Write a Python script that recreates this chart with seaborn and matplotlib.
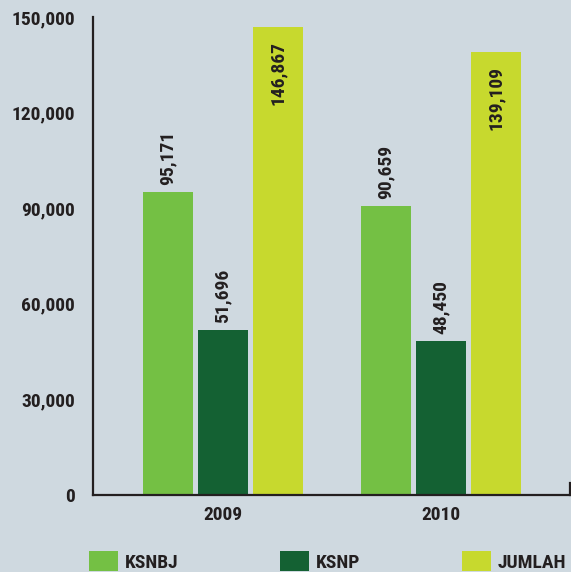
import matplotlib
matplotlib.use("Agg")
import matplotlib.pyplot as plt
from matplotlib.patches import Patch
from matplotlib.ticker import FuncFormatter
import seaborn as sns
import pandas as pd

# Data
years = ["2009", "2010"]
series = ["KSNBJ", "KSNP", "JUMLAH"]
ksnbj = [95171, 90659]
ksnp = [51696, 48450]
jumlah = [146867, 139109]
yticks = [0, 30000, 60000, 90000, 120000, 150000]

colors = {"KSNBJ": "#74c044", "KSNP": "#146133", "JUMLAH": "#c7d92e"}
bg = "#cfd9e0"
ink = "#231f20"

rows = []
for name, vals in zip(series, [ksnbj, ksnp, jumlah]):
    for y, v in zip(years, vals):
        rows.append({"year": y, "series": name, "value": v})
df = pd.DataFrame(rows)

sns.set_style("white")
plt.rcParams["font.family"] = ["Roboto Condensed", "Archivo Narrow", "DejaVu Sans"]
plt.rcParams["font.weight"] = "bold"
FS = 14

fig = plt.figure(figsize=(5.71, 5.72), dpi=100, facecolor=bg)
ax = fig.add_axes([93 / 571, 1 - 495 / 572, (570 - 93) / 571, (495 - 17) / 572])
ax.set_facecolor(bg)

sns.barplot(data=df, x="year", y="value", hue="series", order=years,
            hue_order=series, palette=colors, saturation=1,
            width=0.756, gap=0.09, legend=False, linewidth=0, ax=ax)

ax.set_xlim(-0.596, 1.592)
ax.set_ylim(0, 150000)
ax.set_yticks(yticks)
ax.yaxis.set_major_formatter(FuncFormatter(lambda v, p: f"{v:,.0f}"))
ax.set_xlabel("")
ax.set_ylabel("")

ax.spines["top"].set_visible(False)
for s in ["left", "bottom", "right"]:
    ax.spines[s].set_color(ink)
    ax.spines[s].set_linewidth(1.6)
ax.spines["right"].set_bounds(0, 3800)

ax.tick_params(axis="y", length=8, width=1.4, color=ink, pad=5,
               labelsize=FS, labelcolor=ink)
ax.tick_params(axis="x", length=0, pad=8, labelsize=FS, labelcolor=ink)
for t in ax.get_xticklabels() + ax.get_yticklabels():
    t.set_fontweight("bold")

# Value labels: above the green bars, inside the top of the total bars
for cont, name in zip(ax.containers, series):
    labels = [f"{v:,.0f}" for v in cont.datavalues]
    if name == "JUMLAH":
        for bar, lab in zip(cont, labels):
            ax.annotate(lab, (bar.get_x() + bar.get_width() / 2, bar.get_height()),
                        xytext=(0, -10), textcoords="offset points",
                        rotation=90, ha="center", va="top",
                        fontsize=FS, fontweight="bold", color=ink)
    else:
        ax.bar_label(cont, labels=labels, padding=5, rotation=90,
                     fontsize=FS, fontweight="bold", color=ink)

handles = [Patch(facecolor=colors[n], edgecolor="none", label=n) for n in series]
leg = fig.legend(handles=handles, loc="lower left", bbox_to_anchor=(89 / 571, 0.0),
                 ncol=3, frameon=False, fontsize=FS, handlelength=1.5,
                 handleheight=1.2, handletextpad=0.36, columnspacing=5.2,
                 borderpad=0, borderaxespad=0)
for t in leg.get_texts():
    t.set_color(ink)
    t.set_fontweight("bold")

fig.savefig("out.png", dpi=100, facecolor=bg)
